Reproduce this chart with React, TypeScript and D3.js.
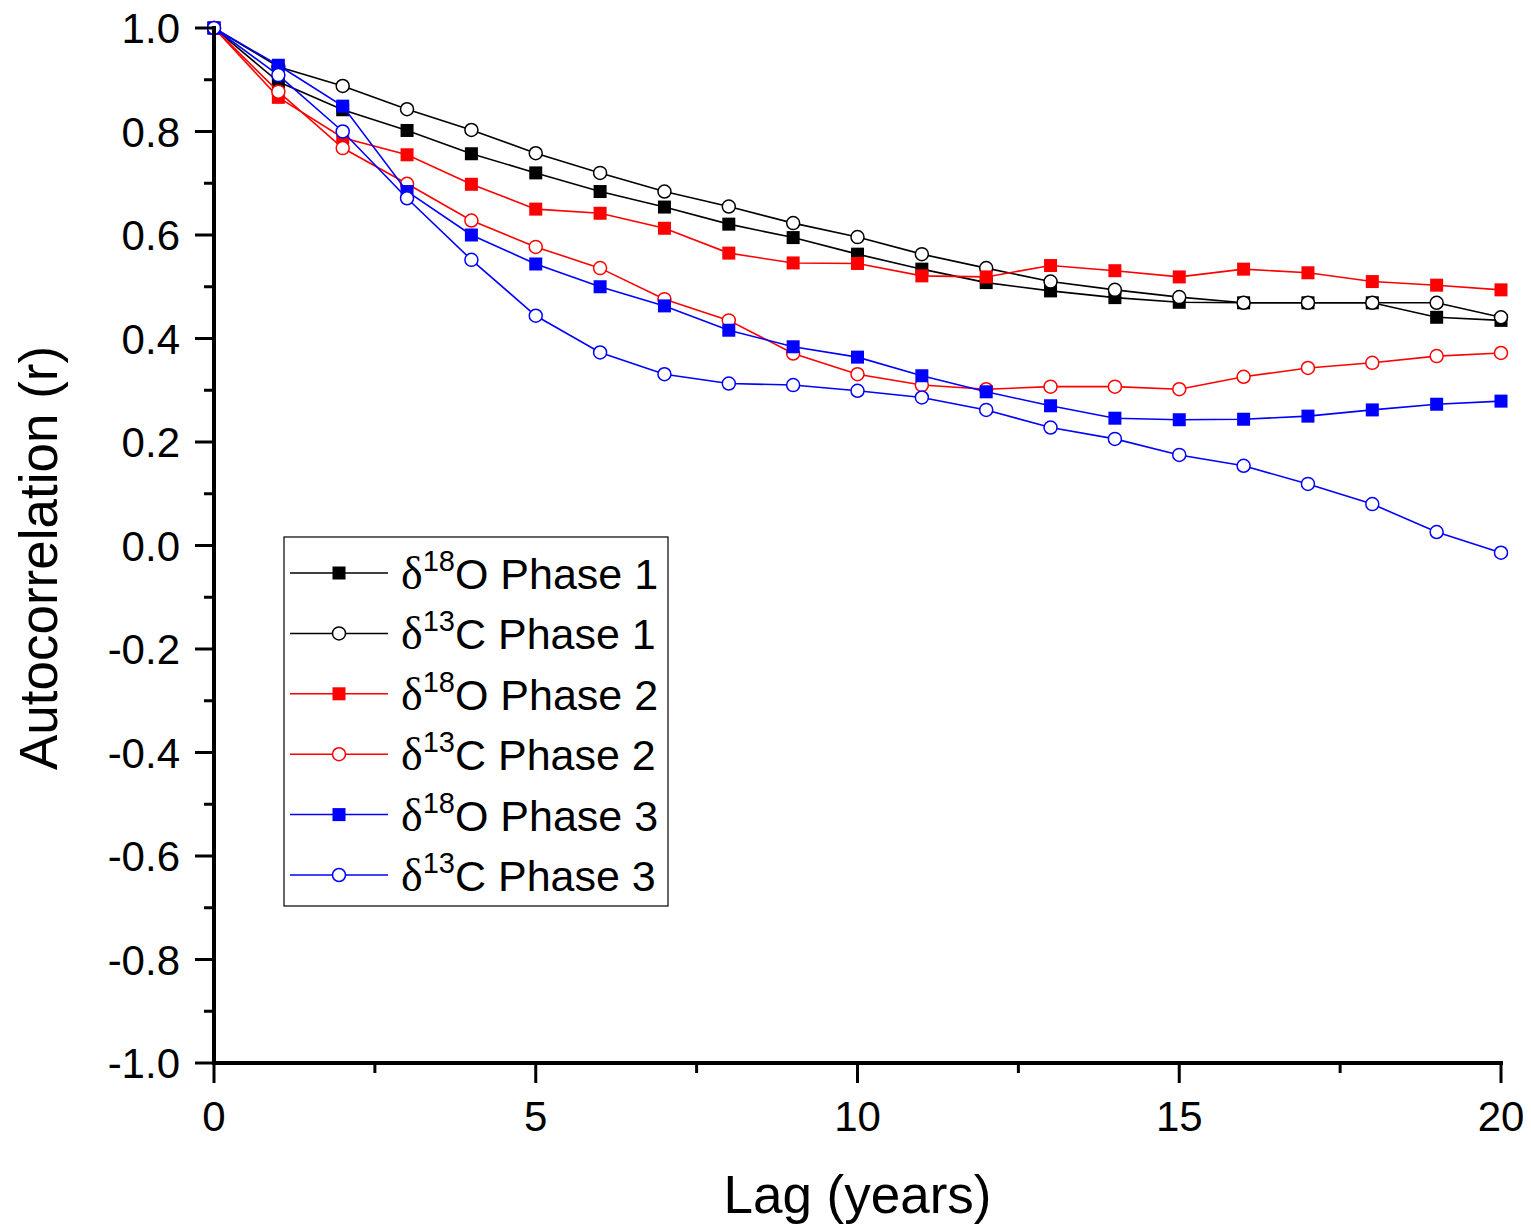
import React from "react";
import * as d3 from "d3";

const lags = [0, 1, 2, 3, 4, 5, 6, 7, 8, 9, 10, 11, 12, 13, 14, 15, 16, 17, 18, 19, 20];

const o18Phase1 = [1.0, 0.896, 0.842, 0.802, 0.757, 0.720, 0.684, 0.654, 0.621, 0.595, 0.563, 0.534, 0.508, 0.492, 0.479, 0.470, 0.469, 0.469, 0.469, 0.441, 0.435];
const c13Phase1 = [1.0, 0.925, 0.888, 0.843, 0.803, 0.758, 0.720, 0.684, 0.655, 0.623, 0.596, 0.563, 0.536, 0.510, 0.494, 0.480, 0.469, 0.469, 0.469, 0.469, 0.441];
const o18Phase2 = [1.0, 0.866, 0.788, 0.755, 0.698, 0.650, 0.642, 0.613, 0.565, 0.546, 0.545, 0.521, 0.519, 0.541, 0.531, 0.519, 0.534, 0.527, 0.510, 0.503, 0.494];
const c13Phase2 = [1.0, 0.877, 0.768, 0.699, 0.628, 0.577, 0.536, 0.476, 0.435, 0.371, 0.331, 0.310, 0.302, 0.307, 0.307, 0.302, 0.326, 0.343, 0.353, 0.366, 0.372];
const o18Phase3 = [1.0, 0.928, 0.849, 0.684, 0.600, 0.544, 0.500, 0.463, 0.416, 0.384, 0.364, 0.328, 0.297, 0.270, 0.246, 0.243, 0.244, 0.250, 0.262, 0.273, 0.279];
const c13Phase3 = [1.0, 0.909, 0.800, 0.671, 0.552, 0.444, 0.373, 0.331, 0.313, 0.310, 0.299, 0.286, 0.262, 0.228, 0.206, 0.175, 0.154, 0.119, 0.080, 0.026, -0.014];

const seriesNames = ["18|O Phase 1", "13|C Phase 1", "18|O Phase 2", "13|C Phase 2", "18|O Phase 3", "13|C Phase 3"];
const seriesValues = [o18Phase1, c13Phase1, o18Phase2, c13Phase2, o18Phase3, c13Phase3];
const seriesColors = ["#000000", "#000000", "#ff0000", "#ff0000", "#0000ff", "#0000ff"];
const seriesSymbols = ["square", "circle", "square", "circle", "square", "circle"];

const xTicks = [0, 5, 10, 15, 20];
const xMinor = [2.5, 7.5, 12.5, 17.5];
const yTicks = [1.0, 0.8, 0.6, 0.4, 0.2, 0.0, -0.2, -0.4, -0.6, -0.8, -1.0];
const yMinor = [0.9, 0.7, 0.5, 0.3, 0.1, -0.1, -0.3, -0.5, -0.7, -0.9];

const W = 1531;
const H = 1229;
const left = 214;
const right = 1501;
const top = 28;
const bottom = 1063;
const FONT = "Liberation Sans, Arial, sans-serif";

export default function App() {
  const x = d3.scaleLinear().domain([0, 20]).range([left, right]);
  const y = d3.scaleLinear().domain([-1, 1]).range([bottom, top]);
  const line = d3
    .line<number>()
    .x((_, i) => x(lags[i]))
    .y((v) => y(v));

  const legendX = 284;
  const legendY = 537;
  const legendW = 384;
  const legendH = 369;
  const rowGap = 60.4;
  const firstRow = 573;

  const marker = (sym: string, cx: number, cy: number, color: string, key: string) =>
    sym === "square" ? (
      <rect key={key} x={cx - 6.5} y={cy - 6.5} width={13} height={13} fill={color} />
    ) : (
      <circle key={key} cx={cx} cy={cy} r={6.5} fill="#fff" stroke={color} strokeWidth={1.5} />
    );

  return (
    <svg width={W} height={H} style={{ position: "absolute", left: 0, top: 0, background: "#fff" }}>
      <rect x={0} y={0} width={W} height={H} fill="#fff" />
      {/* series */}
      {seriesValues.map((vals, si) => (
        <g key={si}>
          <path d={line(vals) || ""} fill="none" stroke={seriesColors[si]} strokeWidth={1.6} />
          {vals.map((v, i) => marker(seriesSymbols[si], x(lags[i]), y(v), seriesColors[si], `${si}-${i}`))}
        </g>
      ))}

      {/* axes */}
      <line x1={left} x2={left} y1={top - 2} y2={bottom + 2} stroke="#000" strokeWidth={4} />
      <line x1={left - 2} x2={right + 2} y1={bottom} y2={bottom} stroke="#000" strokeWidth={4} />
      {yTicks.map((t) => (
        <g key={`yt${t}`}>
          <line x1={left - 19} x2={left} y1={y(t)} y2={y(t)} stroke="#000" strokeWidth={3} />
          <text x={180} y={y(t)} dy="0.36em" textAnchor="end" fontFamily={FONT} fontSize={42} fill="#000">
            {t.toFixed(1)}
          </text>
        </g>
      ))}
      {yMinor.map((t) => (
        <line key={`ym${t}`} x1={left - 10} x2={left} y1={y(t)} y2={y(t)} stroke="#000" strokeWidth={3} />
      ))}
      {xTicks.map((t) => (
        <g key={`xt${t}`}>
          <line x1={x(t)} x2={x(t)} y1={bottom} y2={bottom + 20} stroke="#000" strokeWidth={3} />
          <text x={x(t)} y={1131} textAnchor="middle" fontFamily={FONT} fontSize={42} fill="#000">
            {t}
          </text>
        </g>
      ))}
      {xMinor.map((t) => (
        <line key={`xm${t}`} x1={x(t)} x2={x(t)} y1={bottom} y2={bottom + 10} stroke="#000" strokeWidth={3} />
      ))}

      {/* axis titles */}
      <text x={(left + right) / 2} y={1213} textAnchor="middle" fontFamily={FONT} fontSize={53} fill="#000">
        Lag (years)
      </text>
      <text
        transform={`translate(57, ${558}) rotate(-90)`}
        textAnchor="middle"
        fontFamily={FONT}
        fontSize={53}
        fill="#000"
      >
        Autocorrelation (r)
      </text>

      {/* legend */}
      <rect x={legendX} y={legendY} width={legendW} height={legendH} fill="#fff" stroke="#000" strokeWidth={1.2} />
      {seriesNames.map((name, i) => {
        const cy = firstRow + i * rowGap;
        const [iso, rest] = name.split("|");
        return (
          <g key={`lg${i}`}>
            <line x1={290} x2={388} y1={cy} y2={cy} stroke={seriesColors[i]} strokeWidth={1.5} />
            {marker(seriesSymbols[i], 339, cy, seriesColors[i], `lm${i}`)}
            <text x={401} y={cy + 16} fontFamily={FONT} fontSize={43} fill="#000">
              <tspan fontFamily="Liberation Serif, Times New Roman, serif" fontSize={46}>δ</tspan>
              <tspan fontSize={29} dy={-18}>{iso}</tspan>
              <tspan dy={18}>{rest}</tspan>
            </text>
          </g>
        );
      })}
    </svg>
  );
}
